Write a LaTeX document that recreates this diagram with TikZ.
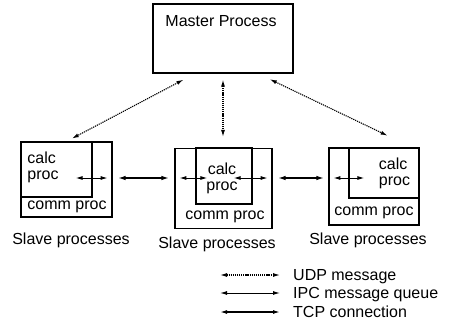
\documentclass[tikz,border=0pt]{standalone}
\usepackage{fontspec}
\setmainfont{Liberation Sans}
\usepackage{tikz}
\usetikzlibrary{arrows.meta, positioning, calc}

\begin{document}
\begin{tikzpicture}[
  x=1pt, y=-1pt,
  pbox/.style={draw, line width=1.2pt, inner sep=0pt},
  txt/.style={inner sep=0pt, font=\fontsize{16}{16}\selectfont},
  udp/.style={{Latex[length=7pt,width=4pt]}-{Latex[length=7pt,width=4pt]}, dash pattern=on 1.2pt off 0.9pt, line width=1.1pt},
  ipc/.style={{Latex[length=7pt,width=4pt]}-{Latex[length=7pt,width=4pt]}, line width=1pt},
  tcp/.style={{Latex[length=8pt,width=4.5pt]}-{Latex[length=8pt,width=4.5pt]}, line width=1.6pt}
]
  \useasboundingbox (0,0) rectangle (454,326);

  % Master
  \node[pbox, minimum width=140pt, minimum height=69pt] (master) at (223,38.5) {};
  \node[txt, anchor=base] (mastertxt) at (221,26.5) {Master Process};

  % Slaves
  \node[pbox, minimum width=91pt, minimum height=75pt] (slave1) at (66.5,179.5) {};
  \node[pbox, minimum width=71pt, minimum height=55pt] (calc1) at (56.5,169.5) {};
  \node[txt, align=left] (calctxt1) at (43,167) {calc\\proc};
  \node[txt, anchor=base] (comm1) at (67,209) {comm proc};

  \node[pbox, minimum width=97pt, minimum height=80pt] (slave2) at (223.5,188.5) {};
  \node[pbox, minimum width=56pt, minimum height=56pt] (calc2) at (224,176) {};
  \node[txt, align=center] (calctxt2) at (222,178) {calc\\proc};
  \node[txt, anchor=base] (comm2) at (225,219) {comm proc};

  \node[pbox, minimum width=90pt, minimum height=77pt] (slave3) at (374,186.5) {};
  \node[pbox, minimum width=70pt, minimum height=50pt] (calc3) at (384,173) {};
  \node[txt, align=left] (calctxt3) at (394.5,173.5) {calc\\proc};
  \node[txt, anchor=base] (comm3) at (374,215) {comm proc};

  \node[txt, anchor=base] (lab1) at (71,244.5) {Slave processes};
  \node[txt, anchor=base] (lab2) at (217,248.5) {Slave processes};
  \node[txt, anchor=base] (lab3) at (368,244.5) {Slave processes};

  % Master <-> Slaves (UDP)
  \draw[udp, shorten <=13pt, shorten >=6pt] ([xshift=-28pt]master.south) -- (slave1.north);
  \draw[udp, shorten <=6pt, shorten >=11pt] (master.south) -- (master.south |- slave2.north);
  \draw[udp, shorten <=13pt, shorten >=27pt] ([xshift=35pt]master.south) -- ([xshift=38pt]slave3.north);

  % calc <-> comm (IPC), comm <-> comm (TCP)
  \coordinate (lvl) at (0,178);
  \draw[ipc] ($(calc1.east |- lvl)+(-17,0)$) -- ($(slave1.east |- lvl)+(-5,0)$);
  \draw[ipc] ($(slave2.west |- lvl)+(5,0)$) -- ($(calc2.west |- lvl)+(12,0)$);
  \draw[ipc] ($(calc2.east |- lvl)+(-19,0)$) -- ($(slave2.east |- lvl)+(-5,0)$);
  \draw[ipc] ($(slave3.west |- lvl)+(5,0)$) -- ($(calc3.west |- lvl)+(16,0)$);

  \draw[tcp, shorten <=5pt, shorten >=5pt] (slave1.east |- lvl) -- (slave2.west |- lvl);
  \draw[tcp, shorten <=5pt, shorten >=4pt] (slave2.east |- lvl) -- (slave3.west |- lvl);

  % Legend
  \node[txt, anchor=base west] (udptxt) at (293,280) {UDP message};
  \node[txt, anchor=base west] (ipctxt) at (293,298.5) {IPC message queue};
  \node[txt, anchor=base west] (tcptxt) at (293,317) {TCP connection};
  \coordinate (lu) at (220,275);
  \coordinate (li) at (220,293);
  \coordinate (lt) at (220,312);
  \draw[udp, shorten >=13pt] (lu) -- (lu -| udptxt.west);
  \draw[ipc, shorten >=13pt] (li) -- (li -| ipctxt.west);
  \draw[ipc, line width=1.3pt, shorten >=13pt] (lt) -- (lt -| tcptxt.west);
\end{tikzpicture}
\end{document}
